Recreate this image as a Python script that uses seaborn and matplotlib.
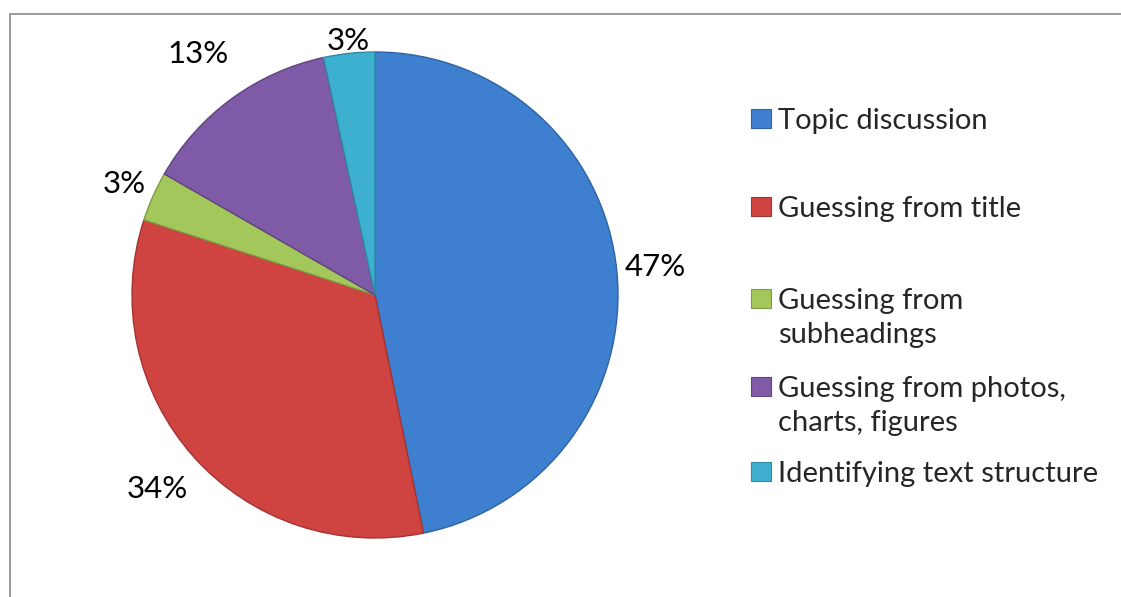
import matplotlib
matplotlib.use("Agg")
import matplotlib.pyplot as plt
import seaborn as sns
import numpy as np
from matplotlib.patches import Rectangle
from matplotlib.legend_handler import HandlerPatch

# ---- data ----
categories = [
    "Topic discussion",
    "Guessing from title",
    "Guessing from\nsubheadings",
    "Guessing from photos,\ncharts, figures",
    "Identifying text structure",
]
shares = [46.8, 33.2, 3.3, 13.3, 3.4]
pct_labels = ["47%", "34%", "3%", "13%", "3%"]

# ---- styles ----
colors = ["#3F7FCF", "#CF4341", "#A3C75A", "#7F5AA6", "#3DB0CF"]
edge_colors = ["#2F62A3", "#A33432", "#7E9C44", "#5F4480", "#2E8AA3"]

sns.set_theme(style="white")
plt.rcParams["font.family"] = ["Lato", "DejaVu Sans"]

W, H = 1121, 597
fig = plt.figure(figsize=(W / 100, H / 100), dpi=100)
fig.patch.set_facecolor("white")

cx, cy, R = 375, H - 295, 243
lim = 1.1
ax = fig.add_axes([(cx - R * lim) / W, (cy - R * lim) / H, 2 * R * lim / W, 2 * R * lim / H])
wedges, _ = ax.pie(shares, colors=colors, startangle=90, counterclock=False,
                   wedgeprops=dict(linewidth=1.0), radius=1)
for w, ec in zip(wedges, edge_colors):
    w.set_edgecolor(ec)
ax.set_xlim(-lim, lim)
ax.set_ylim(-lim, lim)
ax.axis("off")

dists = [1.16, 1.2, 1.13, 1.23, 1.05]
for w, lab, d in zip(wedges, pct_labels, dists):
    ang = np.deg2rad((w.theta1 + w.theta2) / 2)
    ax.text(d * np.cos(ang), d * np.sin(ang), lab, ha="center", va="center",
            fontsize=22.5, color="black")


class OffsetHandler(HandlerPatch):
    def __init__(self, dy_frac=0.0, **kw):
        super().__init__(**kw)
        self.dy_frac = dy_frac

    def create_artists(self, legend, orig_handle, xdescent, ydescent, width, height,
                       fontsize, trans):
        p = Rectangle((-xdescent, -ydescent + self.dy_frac * fontsize), width, height,
                      facecolor=orig_handle.get_facecolor(),
                      edgecolor=orig_handle.get_edgecolor(), lw=0.8, transform=trans)
        return [p]


entry_y = [121, 209, 318, 406, 474]
for cat, col, ec, y in zip(categories, colors, edge_colors, entry_y):
    nlines = cat.count("\n") + 1
    h = Rectangle((0, 0), 1, 1, facecolor=col, edgecolor=ec)
    leg = fig.legend([h], [cat], loc="center left", bbox_to_anchor=(751 / W, 1 - y / H),
                     frameon=False, fontsize=21, handlelength=0.68, handleheight=0.62,
                     handletextpad=0.25, borderpad=0, borderaxespad=0,
                     handler_map={h: OffsetHandler(dy_frac=0.69 * (nlines - 1))})
    for t in leg.get_texts():
        t.set_linespacing(1.42)

# outer chart border (top and left visible, right/bottom cropped)
fig.patches.append(Rectangle((10 / W, -0.1), 1.2, 1 - 14 / H + 0.1, transform=fig.transFigure,
                             fill=False, edgecolor="#8A8A8A", lw=1.2))

fig.savefig("out.png", dpi=100)
